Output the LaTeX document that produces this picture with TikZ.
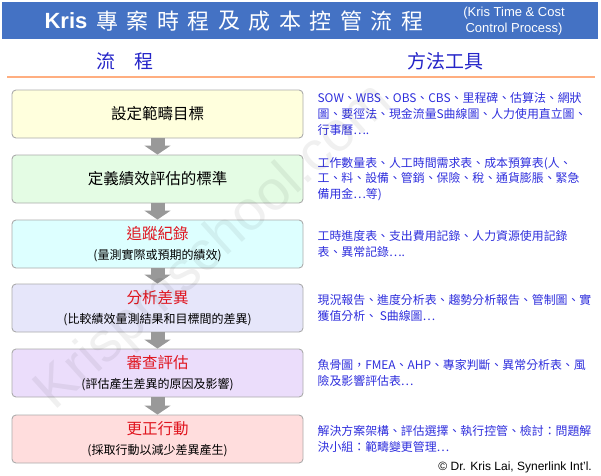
\documentclass[tikz,border=0pt]{standalone}
\usepackage{fontspec}
\setmainfont{Liberation Sans}
\newfontfamily\cjk{Noto Sans CJK TC}
\usetikzlibrary{positioning}
\usetikzlibrary{arrows.meta}

\definecolor{titleblue}{HTML}{4472C4}
\definecolor{headblue}{HTML}{2424C8}
\definecolor{toolblue}{HTML}{2E2EDC}
\definecolor{titlered}{HTML}{E0141E}
\definecolor{lineorange}{HTML}{FFAE80}
\definecolor{boxgray}{HTML}{ABABAB}
\definecolor{arrowgray}{HTML}{999999}
\definecolor{fillA}{HTML}{FFFFDD}
\definecolor{fillB}{HTML}{E4FCE4}
\definecolor{fillC}{HTML}{DDFFFF}
\definecolor{fillD}{HTML}{E6E6FA}
\definecolor{fillE}{HTML}{EBDDFB}
\definecolor{fillF}{HTML}{FFDDDD}

\begin{document}
\begin{tikzpicture}[x=1pt,y=-1pt,
  stepbox/.style={draw=boxgray, line width=0.9pt, rounded corners=4pt, minimum width=291pt,
    minimum height=48pt, inner sep=0pt, align=center, font=\cjk\fontsize{15.5}{18}\selectfont},
  tool/.style={right=14pt of #1, inner sep=0pt, align=left, text=toolblue,
    font=\cjk\fontsize{11.9}{15.8}\selectfont},
  flow/.style={draw=arrowgray, line width=14pt, -{Triangle[width=26pt,length=9pt]}}]

  \useasboundingbox (0,0) rectangle (601,475);

  % title bar
  \fill[titleblue] (2,2) rectangle (598,39);
  \node[text=white, font=\bfseries\fontsize{22}{22}\selectfont] (kris) at (66,21) {Kris};
  \foreach \c [count=\i] in {專,案,時,程,及,成,本,控,管,流,程}
    \node[text=white, font=\cjk\fontsize{22}{22}\selectfont] (t\i) at (107+30.5*\i-30.5,21) {\c};
  \node[text=white, align=center, font=\fontsize{13}{16.5}\selectfont] (eng) at (514,21)
    {(Kris Time \& Cost\\Control Process)};

  % column heads
  \node[text=headblue, font=\cjk\fontsize{19}{19}\selectfont] (hflow) at (125,61) {流\hspace{1em}程};
  \node[text=headblue, font=\cjk\fontsize{19}{19}\selectfont] (htool) at (445,61) {方法工具};
  \draw[lineorange, line width=2pt] (7,77) -- (595,77);

  % steps
  \node[stepbox, fill=fillA] (b1) at (157.5,114) {設定範疇目標};
  \node[stepbox, fill=fillB] (b2) at (157.5,179) {定義績效評估的標準};
  \node[stepbox, fill=fillC] (b3) at (157.5,244)
    {{\color{titlered}追蹤紀錄}\\[2pt]{\fontsize{12}{14}\selectfont(量測實際或預期的績效)}};
  \node[stepbox, fill=fillD] (b4) at (157.5,308)
    {{\color{titlered}分析差異}\\[2pt]{\fontsize{12}{14}\selectfont(比較績效量測結果和目標間的差異)}};
  \node[stepbox, fill=fillE] (b5) at (157.5,373)
    {{\color{titlered}審查評估}\\[2pt]{\fontsize{12}{14}\selectfont(評估產生差異的原因及影響)}};
  \node[stepbox, fill=fillF] (b6) at (157.5,439)
    {{\color{titlered}更正行動}\\[2pt]{\fontsize{12}{14}\selectfont(採取行動以減少差異產生)}};

  \draw[flow] (b1.south) -- (b2.north);
  \draw[flow] (b2.south) -- (b3.north);
  \draw[flow] (b3.south) -- (b4.north);
  \draw[flow] (b4.south) -- (b5.north);
  \draw[flow] (b5.south) -- (b6.north);

  % tools
  \node[tool=b1] (m1) {SOW、WBS、OBS、CBS、里程碑、估算法、網狀\\
    圖、要徑法、現金流量S曲線圖、人力使用直立圖、\\行事曆….};
  \node[tool=b2] (m2) {工作數量表、人工時間需求表、成本預算表(人、\\
    工、料、設備、管銷、保險、稅、通貨膨脹、緊急\\備用金…等)};
  \node[tool=b3] (m3) {工時進度表、支出費用記錄、人力資源使用記錄\\表、異常記錄….};
  \node[tool=b4] (m4) {現況報告、進度分析表、趨勢分析報告、管制圖、實\\獲值分析、 S曲線圖…};
  \node[tool=b5] (m5) {魚骨圖，FMEA、AHP、專家判斷、異常分析表、風\\險及影響評估表…};
  \node[tool=b6] (m6) {解決方案架構、評估選擇、執行控管、檢討：問題解\\決小組：範疇變更管理…};

  \node[anchor=east, inner sep=0pt, font=\fontsize{12}{12}\selectfont] (copy) at (592,467)
    {© Dr. Kris Lai, Synerlink Int'l.};

  % watermark
  \node[rotate=42, text=black, opacity=0.06, font=\fontsize{56}{56}\selectfont] (wm) at (215,248)
    {Krispmschool.com};
\end{tikzpicture}
\end{document}
